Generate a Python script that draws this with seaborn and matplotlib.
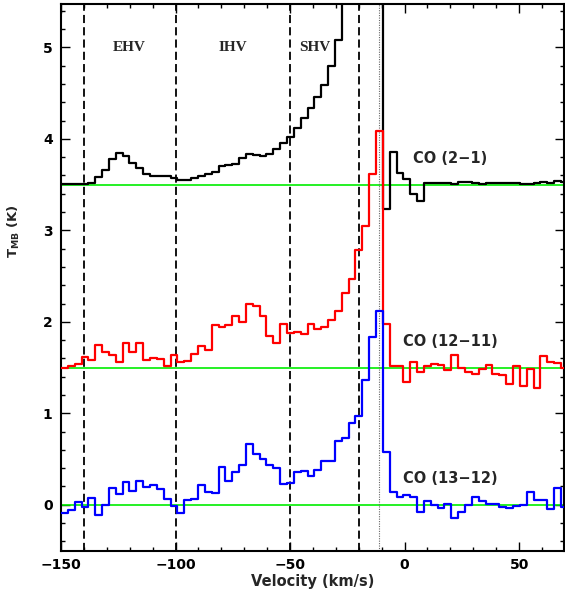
import numpy as np
import pandas as pd
import matplotlib
matplotlib.use('Agg')
import matplotlib.pyplot as plt
from matplotlib.ticker import MultipleLocator
import seaborn as sns

sns.set_theme(style='ticks')
plt.rcParams['font.family'] = ['DejaVu Sans']

# velocity grid of the spectra (km/s)
v_start = -150.0
chan_width = 2.99

# main-beam temperatures (K), one value per channel
co21 = [3.505, 3.505, 3.505, 3.51, 3.52, 3.58, 3.66, 3.78, 3.85, 3.81,
        3.74, 3.68, 3.62, 3.59, 3.59, 3.59, 3.57, 3.55, 3.55, 3.57,
        3.59, 3.62, 3.64, 3.70, 3.71, 3.73, 3.79, 3.83, 3.82, 3.81,
        3.84, 3.89, 3.96, 4.02, 4.12, 4.23, 4.34, 4.46, 4.59, 4.80,
        5.08, 6.0, 7.0, 8.0, 9.0, 9.5, 9.0, 3.235, 3.86, 3.625,
        3.56, 3.395, 3.326, 3.515, 3.515, 3.52, 3.515, 3.51, 3.525, 3.53,
        3.52, 3.51, 3.515, 3.52, 3.52, 3.515, 3.52, 3.51, 3.505, 3.515,
        3.525, 3.52, 3.535, 3.53]
co1211 = [1.50, 1.52, 1.54, 1.61, 1.585, 1.75, 1.67, 1.64, 1.56, 1.77,
          1.67, 1.77, 1.58, 1.60, 1.59, 1.52, 1.64, 1.565, 1.57, 1.65,
          1.74, 1.69, 1.97, 1.945, 1.96, 2.06, 2.0, 2.19, 2.175, 2.06,
          1.84, 1.77, 1.975, 1.875, 1.89, 1.87, 1.975, 1.925, 1.94, 2.015,
          2.12, 2.31, 2.47, 2.78, 3.05, 3.62, 4.09, 1.98, 1.515, 1.515,
          1.34, 1.565, 1.455, 1.515, 1.535, 1.53, 1.475, 1.64, 1.495, 1.45,
          1.43, 1.485, 1.53, 1.43, 1.42, 1.32, 1.52, 1.30, 1.485, 1.275,
          1.63, 1.56, 1.55, 1.495]
co1312 = [-0.09, -0.055, 0.025, -0.02, 0.07, -0.11, 0.0, 0.18, 0.12, 0.245,
          0.155, 0.26, 0.19, 0.22, 0.17, 0.06, -0.01, -0.085, 0.055, 0.06,
          0.215, 0.135, 0.13, 0.41, 0.265, 0.36, 0.44, 0.66, 0.55, 0.495,
          0.43, 0.40, 0.23, 0.235, 0.36, 0.37, 0.31, 0.38, 0.475, 0.48,
          0.70, 0.73, 0.89, 0.975, 1.365, 1.83, 2.12, 0.58, 0.135, 0.08,
          0.105, 0.08, -0.075, 0.045, 0.0, -0.035, 0.005, -0.15, -0.08, 0.0,
          0.09, 0.045, 0.01, 0.01, -0.02, -0.03, -0.01, 0.0, 0.14, 0.055,
          0.055, -0.045, 0.18, -0.02]

line_names = ['CO (2\u22121)', 'CO (12\u221211)', 'CO (13\u221212)']
line_colors = ['black', 'red', 'blue']
baselines = [3.5, 1.5, 0.0]
label_t = [3.79, 1.785, 0.284]
label_v = 20

region_edges = [-140, -100, -50, -20]
v_sys = -11
region_names = ['EHV', 'IHV', 'SHV']
region_v = [-120, -75, -39]
region_t = 5.0

# long table: channel edges + repeated last value for steps-post
frames = []
for name, vals in zip(line_names, [co21, co1211, co1312]):
    edges = v_start + chan_width * np.arange(len(vals) + 1)
    frames.append(pd.DataFrame({'velocity': edges,
                                'tmb': list(vals) + [vals[-1]],
                                'line': name}))
spectra = pd.concat(frames, ignore_index=True)

fig = plt.figure(figsize=(5.65, 5.92), dpi=100)
ax = fig.add_axes([61 / 565, 1 - 550.5 / 592, 502.5 / 565, 547 / 592])

for t in baselines:
    ax.axhline(t, color='#00ee00', lw=1.2, zorder=1)
for v in region_edges:
    ax.axvline(v, color='black', lw=1.3, ls=(0, (4.5, 2.3)), zorder=2)
ax.axvline(v_sys, color='0.4', lw=0.8, ls=(0, (1, 1.2)), zorder=2)

sns.lineplot(data=spectra, x='velocity', y='tmb', hue='line',
             palette=dict(zip(line_names, line_colors)), estimator=None,
             sort=False, drawstyle='steps-post', lw=1.6, legend=False,
             ax=ax, zorder=3)

for name, v in zip(region_names, region_v):
    ax.text(v, region_t, name, ha='center', va='center',
            family='Liberation Serif', weight='bold', size=11)
for name, t in zip(line_names, label_t):
    ax.text(label_v, t, name, ha='center', va='center', weight='bold',
            size=10.5)

ax.set_xlim(-150, 69.4)
ax.set_ylim(-0.5, 5.48)
ax.xaxis.set_major_locator(MultipleLocator(50))
ax.xaxis.set_minor_locator(MultipleLocator(10))
ax.yaxis.set_major_locator(MultipleLocator(1))
ax.yaxis.set_minor_locator(MultipleLocator(0.2))
ax.tick_params(which='both', direction='in', top=True, right=True,
               width=1, colors='black', labelsize=10)
ax.tick_params(which='major', length=6.5)
ax.tick_params(which='minor', length=3)
ax.tick_params(axis='x', pad=5.5)
ax.tick_params(axis='y', pad=6)
for lab in ax.get_xticklabels() + ax.get_yticklabels():
    lab.set_fontweight('bold')
for sp in ax.spines.values():
    sp.set_linewidth(1.5)
    sp.set_color('black')

ax.set_xlabel('Velocity (km/s)', weight='bold', size=10.5, labelpad=1)
ax.set_ylabel(r'T$_{\mathbf{MB}}$ (K)', weight='bold', size=9.5)
ax.yaxis.set_label_coords(-0.078, 0.584)

fig.savefig('out.png', dpi=100, facecolor='white')
